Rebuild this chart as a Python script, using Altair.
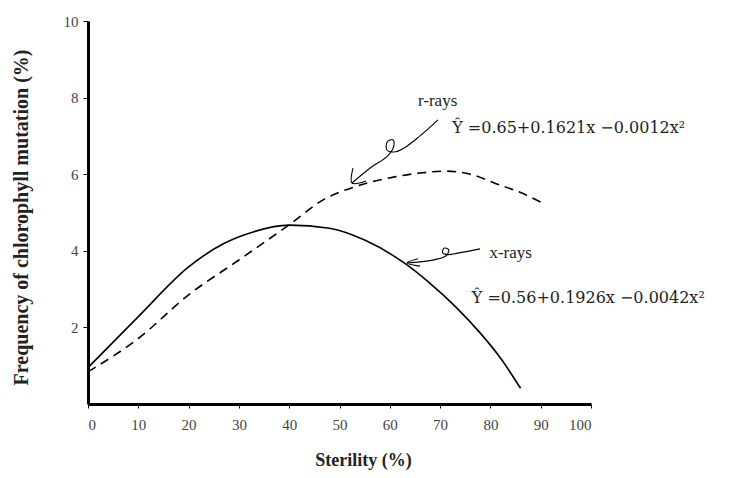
import altair as alt
import pandas as pd

# ---- data ----
sterility_x = [0, 10, 20, 27, 33, 40, 48, 55, 63, 68, 73, 78, 82, 86]
freq_xrays = [0.95, 2.28, 3.58, 4.19, 4.5, 4.67, 4.59, 4.28, 3.67, 3.15, 2.55, 1.85, 1.2, 0.41]

sterility_r = [0, 10, 20, 30, 40, 47, 53, 61, 66, 71, 76, 81, 86, 90.5]
freq_rrays = [0.84, 1.71, 2.85, 3.76, 4.68, 5.35, 5.67, 5.93, 6.03, 6.08, 6.0, 5.76, 5.52, 5.24]

x_ticks = [0, 10, 20, 30, 40, 50, 60, 70, 80, 90, 100]
y_ticks = [2, 4, 6, 8, 10]

label_text = ["r-rays", "x-rays"]
label_x = [65.6, 79.8]
label_y = [7.92, 3.94]

eq_text = ["Ŷ =0.65+0.1621x −0.0012x²", "Ŷ =0.56+0.1926x −0.0042x²"]
eq_x = [72.4, 76.3]
eq_y = [7.2, 2.77]

# hand-drawn pointer arrows (path points, then arrow heads)
arrow_id = (["r"] * 11) + (["rh"] * 3) + (["x"] * 10) + (["xh"] * 3)
arrow_ord = list(range(11)) + [0, 1, 2] + list(range(10)) + [0, 1, 2]
arrow_x = [69.58, 66.0, 62.8, 60.8, 59.4, 59.5, 60.6, 60.8, 59.6, 56.3, 52.49,
           52.68, 52.49, 55.27,
           77.93, 73.56, 71.6, 70.5, 70.8, 71.7, 71.3, 68.99, 66.0, 63.42,
           65.6, 63.42, 66.0]
arrow_y = [7.42, 7.0, 6.68, 6.58, 6.64, 6.84, 6.9, 6.74, 6.48, 6.18, 5.77,
           6.16, 5.77, 5.82,
           4.05, 3.94, 3.9, 3.95, 4.07, 4.03, 3.88, 3.77, 3.71, 3.68,
           3.79, 3.68, 3.60]

FONT = "Liberation Serif"

df_x = pd.DataFrame({"s": sterility_x, "f": freq_xrays})
df_r = pd.DataFrame({"s": sterility_r, "f": freq_rrays})
df_lab = pd.DataFrame({"t": label_text, "s": label_x, "f": label_y})
df_eq = pd.DataFrame({"t": eq_text, "s": eq_x, "f": eq_y})
df_arr = pd.DataFrame({"id": arrow_id, "o": arrow_ord, "s": arrow_x, "f": arrow_y})

xs = alt.Scale(domain=[0, 100], nice=False)
ys = alt.Scale(domain=[0, 10], nice=False)

xaxis = alt.Axis(values=x_ticks, title="Sterility  (%)", grid=False, domainWidth=3,
                 domainColor="black", tickColor="black", tickSize=4, labelFontSize=15,
                 labelFont=FONT, labelColor="#444", labelPadding=9,
                 titleFont=FONT, titleFontSize=18, titleFontWeight="bold",
                 titleX=275, titleY=56, titleBaseline="middle", titleAlign="center",
                 titleColor="#222")
yaxis = alt.Axis(values=y_ticks, title="Frequency   of   chlorophyll   mutation   (%)", grid=False,
                 domainWidth=3, domainColor="black", tickColor="black", tickSize=5,
                 labelFontSize=15, labelFont=FONT, labelColor="#444", labelPadding=5,
                 titleFont=FONT, titleFontSize=20, titleFontWeight="bold",
                 titleX=-67, titleY=196, titleBaseline="middle", titleAlign="center",
                 titleAngle=-90, titleColor="#222")

line_x = alt.Chart(df_x).mark_line(color="black", strokeWidth=1.6, interpolate="monotone").encode(
    x=alt.X("s:Q", scale=xs, axis=xaxis), y=alt.Y("f:Q", scale=ys, axis=yaxis))
line_r = alt.Chart(df_r).mark_line(color="black", strokeWidth=1.6, strokeDash=[9, 6],
                                   interpolate="monotone").encode(
    x=alt.X("s:Q", scale=xs), y=alt.Y("f:Q", scale=ys))
labels = alt.Chart(df_lab).mark_text(align="left", baseline="middle", font=FONT,
                                     fontSize=17, color="#222").encode(
    x=alt.X("s:Q", scale=xs), y=alt.Y("f:Q", scale=ys), text="t:N")
eqs = alt.Chart(df_eq).mark_text(align="left", baseline="middle", font="DejaVu Serif",
                                 fontSize=16, color="#222").encode(
    x=alt.X("s:Q", scale=xs), y=alt.Y("f:Q", scale=ys), text="t:N")
arrows = alt.Chart(df_arr).mark_line(color="black", strokeWidth=1.1,
                                     interpolate="catmull-rom").encode(
    x=alt.X("s:Q", scale=xs), y=alt.Y("f:Q", scale=ys), detail="id:N", order="o:Q")

chart = alt.layer(line_x, line_r, arrows, labels, eqs).properties(
    width=503, height=383,
    autosize=alt.AutoSizeParams(type="none"),
    padding={"left": 80, "top": 13, "right": 145, "bottom": 66},
    background="white",
).configure_view(stroke=None)

chart.save("out.html", embed_options={"renderer": "svg", "actions": False})
